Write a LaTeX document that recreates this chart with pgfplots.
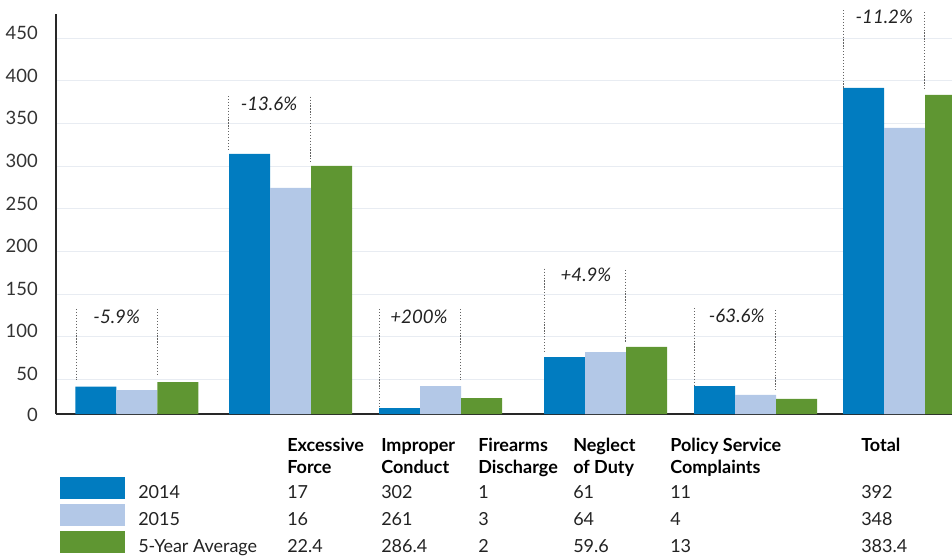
\documentclass[border=0pt]{standalone}
\usepackage{fontspec}
\setmainfont{Lato}
\usepackage{pgfplots}
\pgfplotsset{compat=1.18}
\definecolor{c14}{RGB}{1,124,192}
\definecolor{c15}{RGB}{179,200,231}
\definecolor{cavg}{RGB}{95,150,50}
\definecolor{gridc}{RGB}{232,236,242}
\definecolor{axisc}{RGB}{40,40,40}
\definecolor{txt}{RGB}{34,34,34}
\definecolor{tickc}{RGB}{51,51,51}
\definecolor{dotc}{RGB}{100,100,100}
\newcommand{\tabfont}{\fontsize{13.5}{15}\selectfont}
\begin{document}
\begin{tikzpicture}
\useasboundingbox (0,0) rectangle (714pt,417.75pt);
\begin{axis}[
  at={(42pt,107.25pt)}, anchor=south west,
  scale only axis, width=672pt, height=300pt,
  xmin=56, xmax=952, ymin=9.27, ymax=478.5,
  axis x line*=bottom, axis y line*=left,
  axis line style={-, line width=1.9pt, color=axisc},
  xtick=\empty,
  ytick={50,100,...,450},
  ymajorgrids, grid style={gridc, line width=0.75pt},
  major tick length=0pt,
  /pgf/number format/assume math mode=true,
  yticklabel style={font=\fontsize{13.8}{16}\selectfont, text=tickc, anchor=east, inner sep=0pt, xshift=-13.5pt, yshift=4pt},
  clip mode=individual,
]
\addplot[ybar, bar width=41, bar shift=-41, fill=c14, draw=none] coordinates
  {(136.8,41.3) (290.5,314.3) (440.5,16.3) (605.5,76.1) (755.5,42.1) (904.5,391.7)};
\addplot[ybar, bar width=41, bar shift=0, fill=c15, draw=none] coordinates
  {(136.8,37.4) (290.5,274.4) (440.5,42.1) (605.5,82.0) (755.5,31.6) (904.5,344.8)};
\addplot[ybar, bar width=41, bar shift=41, fill=cavg, draw=none] coordinates
  {(136.8,46.8) (290.5,300.2) (440.5,28.0) (605.5,87.9) (755.5,26.9) (904.5,383.5)};
\tikzset{dl/.style={dotc, line width=0.75pt, dash pattern=on 0.9pt off 1.3pt}}
\draw[dl] (axis cs:76,132.4) -- (axis cs:76,49.2);
\draw[dl] (axis cs:157.3,132.4) -- (axis cs:157.3,53.8);
\draw[dl] (axis cs:228.7,382.3) -- (axis cs:228.7,319.0);
\draw[dl] (axis cs:310,381.5) -- (axis cs:310,303.7);
\draw[dl] (axis cs:379,132.4) -- (axis cs:379,17.8);
\draw[dl] (axis cs:460.3,132.4) -- (axis cs:460.3,49.2);
\draw[dl] (axis cs:544,179.7) -- (axis cs:544,82.3);
\draw[dl] (axis cs:625.7,178.2) -- (axis cs:625.7,92.2);
\draw[dl] (axis cs:694.3,133.3) -- (axis cs:694.3,43.3);
\draw[dl] (axis cs:775.7,131.3) -- (axis cs:775.7,37.4);
\draw[dl] (axis cs:843.3,483) -- (axis cs:843.3,389.3);
\draw[dl] (axis cs:924.7,480.9) -- (axis cs:924.7,389.3);
\tikzset{pl/.style={font=\fontsize{14}{16}\selectfont\itshape, text=txt, inner sep=0pt}}
\node[pl] at (axis cs:116.7,123.4) {-5.9\%};
\node[pl] at (axis cs:269,372.9) {-13.6\%};
\node[pl] at (axis cs:419,123.4) {+200\%};
\node[pl] at (axis cs:586,172.0) {+4.9\%};
\node[pl] at (axis cs:736.7,124.2) {-63.6\%};
\node[pl] at (axis cs:884.3,475.3) {-11.2\%};
\end{axis}
\begin{scope}[x=0.75pt,y=-0.75pt,shift={(0,417.75pt)}]
\node[font=\fontsize{13.8}{16}\selectfont, text=tickc, anchor=east, inner sep=0pt] at (38,415) {0};
\fill[c14] (60,477.3) rectangle (125,499);
\fill[c15] (60,504) rectangle (125,525.7);
\fill[cavg] (60,531) rectangle (125,552.7);
\tikzset{tb/.style={font=\tabfont, text=txt, anchor=base west, inner sep=0pt},
         th/.style={font=\tabfont\bfseries, text=black, anchor=base west, inner sep=0pt}}
% headers
\node[th] at (287,451.5) {Excessive};
\node[th] at (287,473) {Force};
\node[th] at (381,451.5) {Improper};
\node[th] at (381,473) {Conduct};
\node[th] at (478,451.5) {Firearms};
\node[th] at (478,473) {Discharge};
\node[th] at (573,451.5) {Neglect};
\node[th] at (573,473) {of Duty};
\node[th] at (670,451.5) {Policy Service};
\node[th] at (670,473) {Complaints};
\node[th] at (861,451.5) {Total};
% rows
\node[tb] at (138,498.5) {2014};
\node[tb] at (138,525.5) {2015};
\node[tb] at (138,552.5) {5-Year Average};
\node[tb] at (287,498.5) {17};
\node[tb] at (287,525.5) {16};
\node[tb] at (287,552.5) {22.4};
\node[tb] at (381,498.5) {302};
\node[tb] at (381,525.5) {261};
\node[tb] at (381,552.5) {286.4};
\node[tb] at (478,498.5) {1};
\node[tb] at (478,525.5) {3};
\node[tb] at (478,552.5) {2};
\node[tb] at (573,498.5) {61};
\node[tb] at (573,525.5) {64};
\node[tb] at (573,552.5) {59.6};
\node[tb] at (670,498.5) {11};
\node[tb] at (670,525.5) {4};
\node[tb] at (670,552.5) {13};
\node[tb] at (861,498.5) {392};
\node[tb] at (861,525.5) {348};
\node[tb] at (861,552.5) {383.4};
\end{scope}
\end{tikzpicture}
\end{document}
